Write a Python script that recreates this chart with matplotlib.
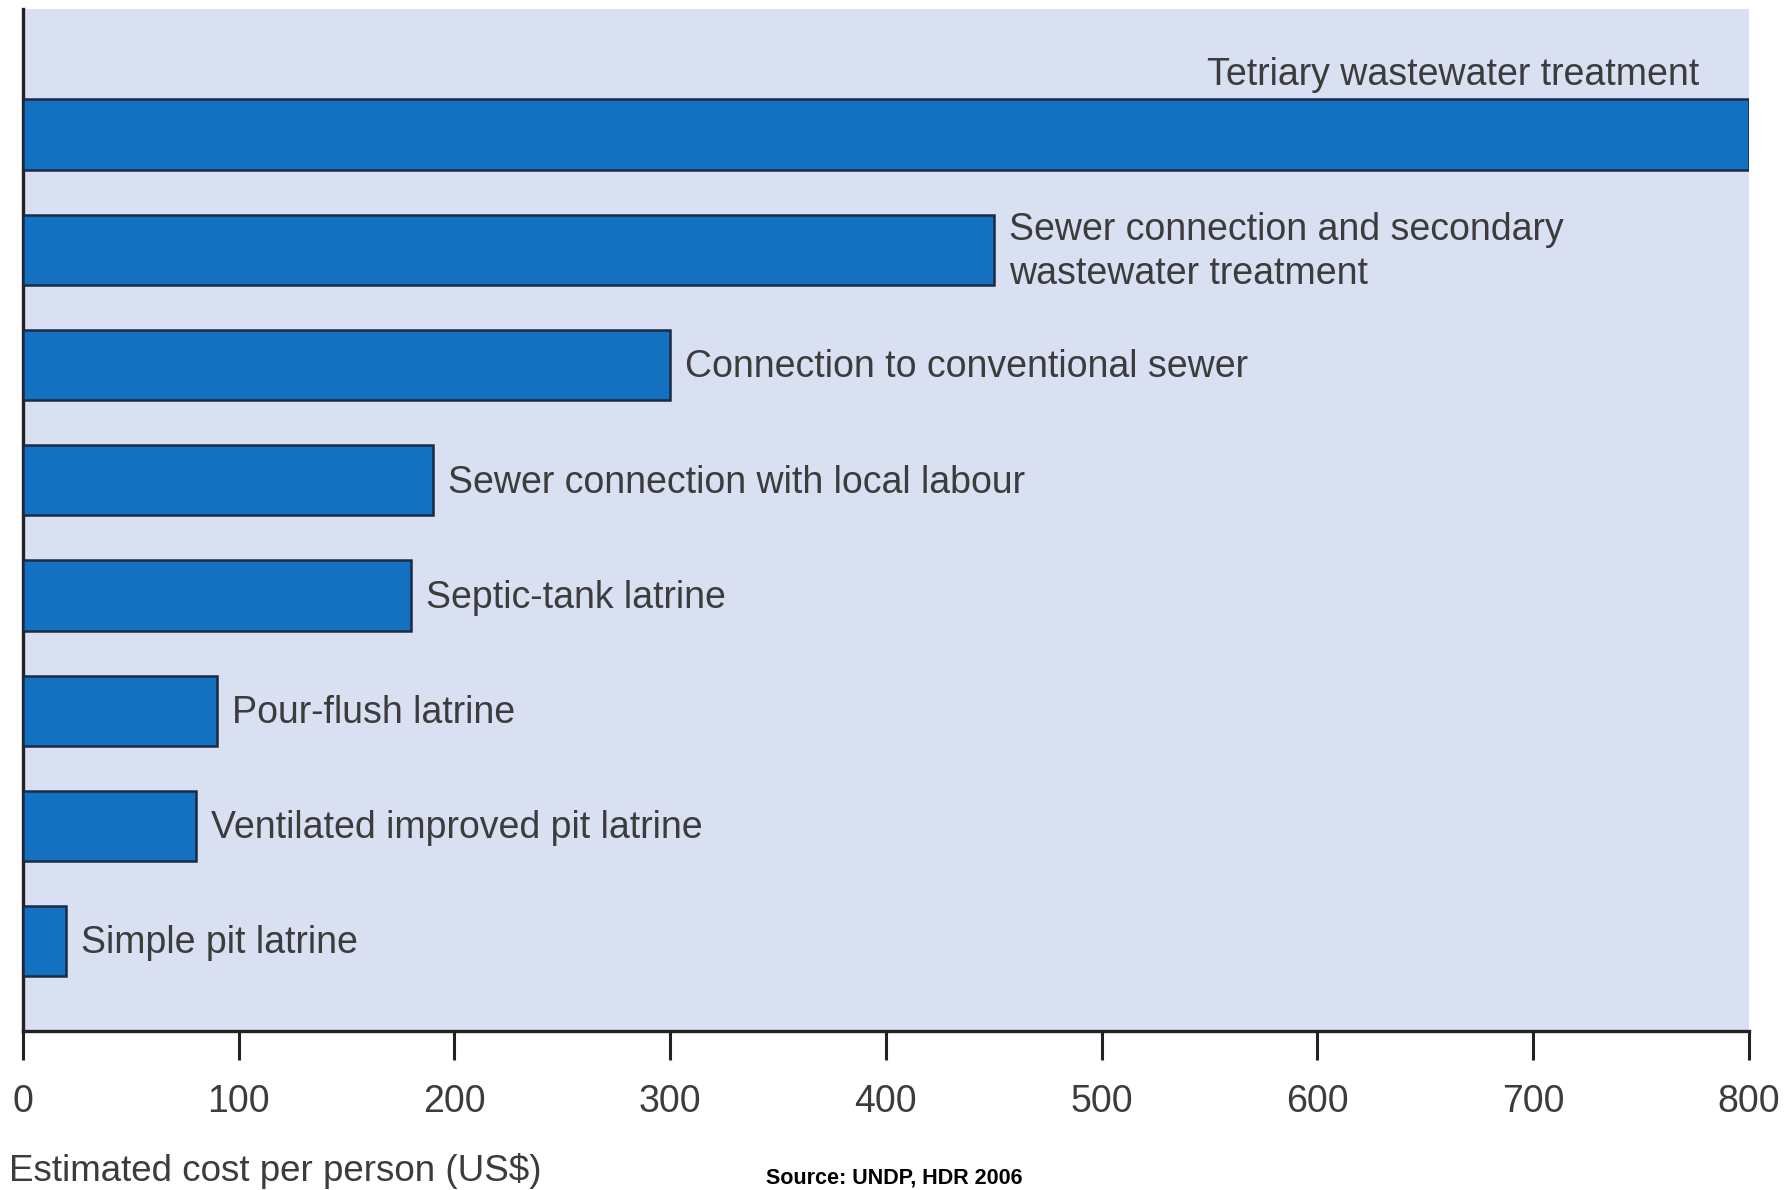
import matplotlib
matplotlib.use("Agg")
import matplotlib.pyplot as plt

# sanitation options, bottom to top, cost per person in US$
options = [
    "Simple pit latrine",
    "Ventilated improved pit latrine",
    "Pour-flush latrine",
    "Septic-tank latrine",
    "Sewer connection with local labour",
    "Connection to conventional sewer",
    "Sewer connection and secondary\nwastewater treatment",
    "Tetriary wastewater treatment",
]
costs = [20, 80, 90, 180, 190, 300, 450, 800]
xticks = [0, 100, 200, 300, 400, 500, 600, 700, 800]

bar_color = "#1470c0"
edge_color = "#1b2b45"
panel_color = "#d9e0f1"
text_color = "#3c3c3c"
font = "Liberation Sans"

fig = plt.figure(figsize=(17.91, 11.90), dpi=100)
ax = fig.add_axes([0.0128, 0.1336, 0.9637, 0.8588])
ax.set_facecolor(panel_color)

ypos = list(range(len(costs)))
ax.barh(ypos, costs, height=0.61, color=bar_color, edgecolor=edge_color,
        linewidth=1.8, zorder=3)

for y, c, name in zip(ypos, costs, options):
    if c >= 800:
        # longest bar: label sits above it, right-aligned
        ax.text(777, y + 0.52, name, ha="right", va="center",
                fontsize=27, color=text_color, family=font)
    else:
        ax.text(c + 7, y - 0.02, name, ha="left", va="center",
                fontsize=27, color=text_color, family=font, linespacing=1.3)

ax.set_xlim(0, 800)
ax.set_ylim(-0.78, 8.09)
ax.set_yticks([])
ax.set_xticks(xticks)
ax.set_xticklabels([str(t) for t in xticks], fontsize=27, color=text_color,
                   family=font)
ax.tick_params(axis="x", length=21, width=2.2, color="#222222", pad=17)

for side in ("top", "right"):
    ax.spines[side].set_visible(False)
for side in ("left", "bottom"):
    ax.spines[side].set_linewidth(2.4)
    ax.spines[side].set_color("#222222")

fig.text(0.005, 1 - 1171 / 1190, "Estimated cost per person (US$)",
         ha="left", va="center", fontsize=26.5, color=text_color, family=font)
fig.text(894 / 1791, 1 - 1178 / 1190, "Source: UNDP, HDR 2006",
         ha="center", va="center", fontsize=15.5, color="black",
         family=font, fontweight="bold")

fig.savefig("out.png", dpi=100, facecolor="white")
